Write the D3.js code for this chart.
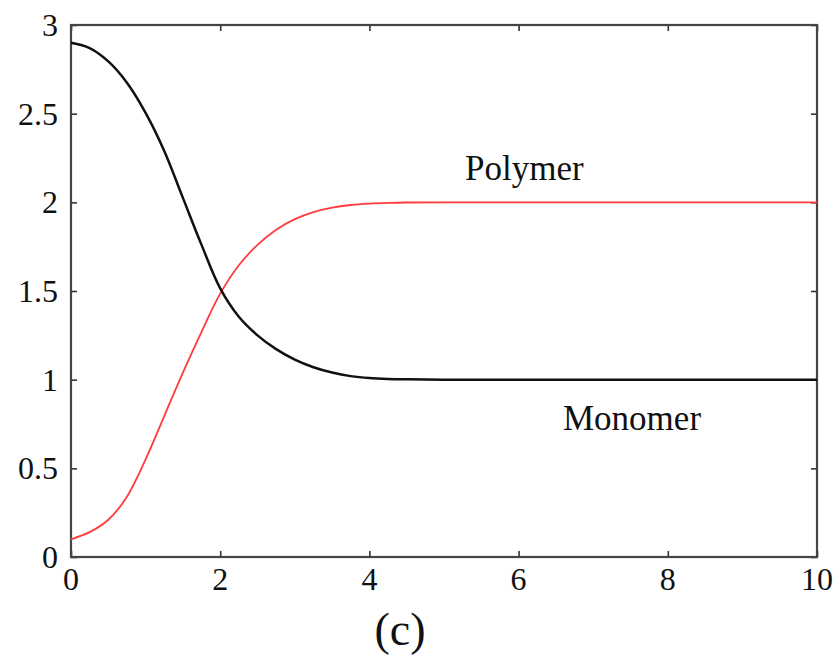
<!DOCTYPE html>
<html>
<head>
<meta charset="utf-8">
<script src="https://d3js.org/d3.v7.min.js"></script>
<style>
  body { margin: 0; background: #fff; }
  text { font-family: "Liberation Serif", "Times New Roman", serif; fill: #111; }
</style>
</head>
<body>
<svg id="chart" width="837" height="657"></svg>
<script>
// time points (x) and read-off values for the two species
var times    = [0, 0.25, 0.5, 0.75, 1, 1.25, 1.5, 1.75, 2, 2.25, 2.5, 2.75, 3, 3.25, 3.5, 3.75, 4, 4.25, 4.5, 5, 6, 7, 8, 9, 10];
var monomer  = [2.90, 2.87, 2.795, 2.675, 2.505, 2.29, 2.025, 1.76, 1.515, 1.355, 1.25, 1.172, 1.113, 1.07, 1.04, 1.02, 1.009, 1.004, 1.002, 1.0, 1.0, 1.0, 1.0, 1.0, 1.0];
var polymer  = [0.10, 0.14, 0.21, 0.34, 0.55, 0.795, 1.04, 1.27, 1.485, 1.645, 1.76, 1.845, 1.905, 1.945, 1.97, 1.985, 1.993, 1.997, 1.999, 2.0, 2.0, 2.0, 2.0, 2.0, 2.0];
var xTicks   = [0, 2, 4, 6, 8, 10];
var yTicks   = [0, 0.5, 1, 1.5, 2, 2.5, 3];

// note: "top" would clash with window.top, so plot edges get a prefix
var svg = d3.select('#chart'),
    pLeft = 71, pRight = 817, pTop = 25, pBottom = 557;

var x = d3.scaleLinear().domain([0, 10]).range([pLeft, pRight]),
    y = d3.scaleLinear().domain([0, 3]).range([pBottom, pTop]);

// ticks pointing inward on all four sides
svg.append('g').attr('transform', 'translate(0,' + pBottom + ')')
    .call(d3.axisBottom(x).tickValues(xTicks).tickSizeInner(-6).tickSizeOuter(0).tickFormat(''));
svg.append('g').attr('transform', 'translate(0,' + pTop + ')')
    .call(d3.axisTop(x).tickValues(xTicks).tickSizeInner(-6).tickSizeOuter(0).tickFormat(''));
svg.append('g').attr('transform', 'translate(' + pLeft + ',0)')
    .call(d3.axisLeft(y).tickValues(yTicks).tickSizeInner(-6).tickSizeOuter(0).tickFormat(''));
svg.append('g').attr('transform', 'translate(' + pRight + ',0)')
    .call(d3.axisRight(y).tickValues(yTicks).tickSizeInner(-6).tickSizeOuter(0).tickFormat(''));
svg.selectAll('.tick line').attr('stroke', '#333').attr('stroke-width', 1.6);
svg.selectAll('.domain').remove();

// frame
svg.append('rect')
    .attr('x', pLeft).attr('y', pTop)
    .attr('width', pRight - pLeft).attr('height', pBottom - pTop)
    .attr('fill', 'none').attr('stroke', '#444').attr('stroke-width', 2.2);

// tick labels
svg.selectAll('.xl').data(xTicks).enter().append('text')
    .attr('x', function(d) { return x(d); })
    .attr('y', 590)
    .attr('text-anchor', 'middle')
    .style('font-size', '32px')
    .text(function(d) { return d; });

svg.selectAll('.yl').data(yTicks).enter().append('text')
    .attr('x', 58)
    .attr('y', function(d) { return y(d) + 11; })
    .attr('text-anchor', 'end')
    .style('font-size', '32px')
    .text(function(d) { return d; });

// curves
var line = function(vals) {
    return d3.line()
        .x(function(d, i) { return x(times[i]); })
        .y(function(d) { return y(d); })
        .curve(d3.curveCatmullRom.alpha(0.5))(vals);
};

svg.append('path').attr('d', line(polymer))
    .attr('fill', 'none').attr('stroke', '#ff3b3b').attr('stroke-width', 1.8);
svg.append('path').attr('d', line(monomer))
    .attr('fill', 'none').attr('stroke', '#111').attr('stroke-width', 2.5);

// annotations
svg.append('text').attr('x', 465).attr('y', 180).style('font-size', '35px').text('Polymer');
svg.append('text').attr('x', 563).attr('y', 430).style('font-size', '35px').text('Monomer');
svg.append('text').attr('x', 400).attr('y', 645).attr('text-anchor', 'middle').style('font-size', '46px').text('(c)');
</script>
</body>
</html>
